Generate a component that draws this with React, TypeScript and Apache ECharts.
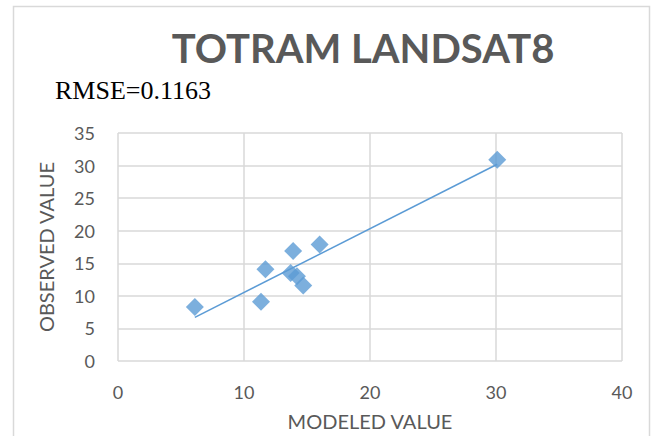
import React, { useEffect, useRef } from "react";
import * as echarts from "echarts";

const modeledValues = [6.1, 11.35, 11.7, 13.7, 13.9, 14.2, 14.7, 16.0, 30.1];
const observedValues = [8.3, 9.1, 14.1, 13.5, 16.9, 13.0, 11.6, 17.9, 30.9];
const trendX = [6.1, 30.1];
const trendY = [6.7, 30.2];
const xTicks = { min: 0, max: 40, step: 10 };
const yTicks = { min: 0, max: 35, step: 5 };
const titleText = "TOTRAM LANDSAT8";
const rmseText = "RMSE=0.1163";
const xName = "MODELED VALUE";
const yName = "OBSERVED VALUE";

const GRAY = "#595959";
const GRID = "#d9d9d9";
const BLUE = "#5B9BD5";
const FONT = "Lato, 'Open Sans', sans-serif";

export default function App() {
  const ref = useRef<HTMLDivElement>(null);
  useEffect(() => {
    document.body.style.margin = "0";
    const chart = echarts.init(ref.current!, null, { renderer: "svg" });
    const scatterData = modeledValues.map((x, i) => [x, observedValues[i]]);
    const trendData = trendX.map((x, i) => [x, trendY[i]]);
    chart.setOption({
      animation: false,
      backgroundColor: "#ffffff",
      graphic: [
        {
          type: "rect",
          shape: { x: 13.5, y: 6.5, width: 636, height: 440 },
          style: { fill: "none", stroke: GRID, lineWidth: 1.5 },
          silent: true,
        },
        {
          type: "text",
          x: 363,
          y: 48,
          style: {
            text: titleText,
            fill: GRAY,
            font: `bold 40px ${FONT}`,
            textAlign: "center",
            textVerticalAlign: "middle",
          },
        },
        {
          type: "text",
          x: 55,
          y: 90,
          style: {
            text: rmseText,
            fill: "#000000",
            font: "26px 'Liberation Serif', 'Times New Roman', serif",
            textAlign: "left",
            textVerticalAlign: "middle",
          },
        },
      ],
      grid: { left: 118, right: 29, top: 133, bottom: 71, containLabel: false },
      xAxis: {
        type: "value",
        min: xTicks.min,
        max: xTicks.max,
        interval: xTicks.step,
        name: xName,
        nameLocation: "middle",
        nameGap: 50,
        nameTextStyle: { color: GRAY, fontSize: 20, fontFamily: FONT },
        axisLine: { show: false },
        axisTick: { show: false },
        axisLabel: { color: GRAY, fontSize: 18, fontFamily: FONT, margin: 22 },
        splitLine: { show: true, lineStyle: { color: GRID, width: 1.5 } },
      },
      yAxis: {
        type: "value",
        min: yTicks.min,
        max: yTicks.max,
        interval: yTicks.step,
        name: yName,
        nameLocation: "middle",
        nameGap: 62,
        nameTextStyle: { color: GRAY, fontSize: 20, fontFamily: FONT },
        axisLine: { show: false },
        axisTick: { show: false },
        axisLabel: { color: GRAY, fontSize: 18, fontFamily: FONT, margin: 23 },
        splitLine: { show: true, lineStyle: { color: GRID, width: 1.5 } },
      },
      series: [
        {
          type: "line",
          data: trendData,
          showSymbol: false,
          symbol: "none",
          lineStyle: { color: BLUE, width: 1.5 },
          z: 2,
        },
        {
          type: "scatter",
          data: scatterData,
          symbol: "diamond",
          symbolSize: 18,
          itemStyle: { color: BLUE },
          z: 3,
        },
      ],
    });
    return () => chart.dispose();
  }, []);
  return <div ref={ref} style={{ width: 651, height: 436 }} />;
}
